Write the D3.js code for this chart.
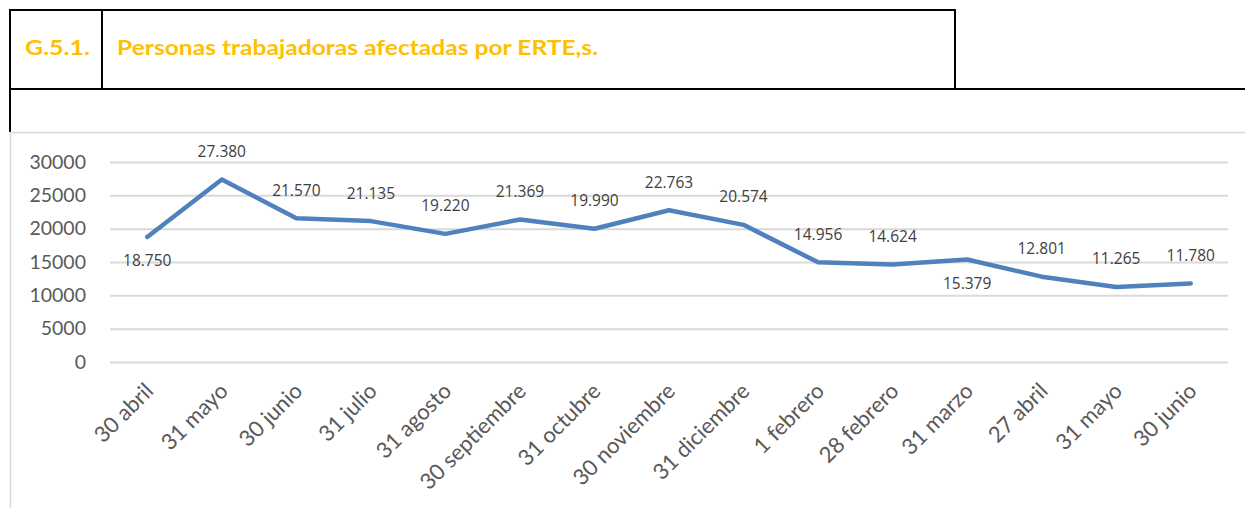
<!DOCTYPE html>
<html lang="es">
<head>
<meta charset="UTF-8">
<title>G.5.1. Personas trabajadoras afectadas por ERTE,s.</title>
<style>
	body { margin: 0; background: #fff; }
	svg { display: block; }
</style>
</head>
<body>
<svg id="cont" width="1245" height="508"></svg>
<script src="https://cdn.jsdelivr.net/npm/d3@7"></script>
<script>
	// fechas del eje x
	let fechas = ["30 abril", "31 mayo", "30 junio", "31 julio", "31 agosto", "30 septiembre",
		"31 octubre", "30 noviembre", "31 diciembre", "1 febrero", "28 febrero", "31 marzo",
		"27 abril", "31 mayo ", "30 junio "];
	// personas afectadas por ERTE
	let personas = [18750, 27380, 21570, 21135, 19220, 21369, 19990, 22763, 20574,
		14956, 14624, 15379, 12801, 11265, 11780];
	// posición de la etiqueta: arriba o abajo del punto
	let posEtiqueta = ["abajo", "arriba", "arriba", "arriba", "arriba", "arriba", "arriba", "arriba",
		"arriba", "arriba", "arriba", "abajo", "arriba", "arriba", "arriba"];
	let yTicks = [0, 5000, 10000, 15000, 20000, 25000, 30000];

	let svg = d3.select("#cont");
	let font = "Lato, 'Open Sans', sans-serif";

	// cabecera tipo tabla
	let head = svg.append("g").attr("stroke", "#000").attr("stroke-width", 2);
	head.append("line").attr("x1", 10).attr("x2", 956).attr("y1", 10).attr("y2", 10);
	head.append("line").attr("x1", 9).attr("x2", 1245).attr("y1", 89).attr("y2", 89);
	head.append("line").attr("x1", 10).attr("x2", 10).attr("y1", 9).attr("y2", 132);
	head.append("line").attr("x1", 102).attr("x2", 102).attr("y1", 10).attr("y2", 89);
	head.append("line").attr("x1", 955).attr("x2", 955).attr("y1", 10).attr("y2", 89);

	svg.append("text")
		.attr("x", 25).attr("y", 55)
		.attr("font-family", font)
		.attr("font-weight", "bold")
		.attr("font-size", 20)
		.attr("fill", "#ffc000")
		.attr("textLength", 65).attr("lengthAdjust", "spacingAndGlyphs")
		.text("G.5.1.");
	svg.append("text")
		.attr("x", 117).attr("y", 55)
		.attr("font-family", font)
		.attr("font-weight", "bold")
		.attr("font-size", 20)
		.attr("fill", "#ffc000")
		.attr("textLength", 481).attr("lengthAdjust", "spacingAndGlyphs")
		.text("Personas trabajadoras afectadas por ERTE,s.");

	// marco del gráfico
	svg.append("rect")
		.attr("x", 10.5).attr("y", 132.5)
		.attr("width", 1250).attr("height", 400)
		.attr("fill", "none")
		.attr("stroke", "#d9d9d9")
		.attr("stroke-width", 1.5);

	let x = d3.scaleBand()
		.domain(fechas)
		.range([110, 1228]);
	let y = d3.scaleLinear()
		.domain([0, 30000])
		.range([362, 162]);

	// rejilla y eje y
	let yaxis = d3.axisLeft(y)
		.tickValues(yTicks)
		.tickSize(-(1228 - 110))
		.tickPadding(24)
		.tickFormat(d => d);
	let gy = svg.append("g")
		.attr("transform", "translate(110,0)")
		.call(yaxis);
	gy.select(".domain").remove();
	gy.selectAll(".tick line").attr("stroke", "#d9d9d9").attr("stroke-width", 2);
	gy.selectAll(".tick text")
		.attr("font-family", font)
		.attr("font-size", 19.5)
		.attr("fill", "#595959");

	// eje x
	let xaxis = d3.axisBottom(x).tickSize(0).tickPadding(0);
	let gx = svg.append("g")
		.attr("transform", "translate(0,362)")
		.call(xaxis);
	gx.select(".domain").remove();
	gx.selectAll(".tick text")
		.attr("font-family", font)
		.attr("font-size", 22)
		.attr("fill", "#595959")
		.attr("text-anchor", "end")
		.attr("dy", "0.35em")
		.attr("transform", "translate(2,25) rotate(-45)");

	// línea
	let cx = d => x(d) + x.bandwidth() / 2;
	let line = d3.line()
		.x((d, i) => cx(fechas[i]))
		.y(d => y(d));
	svg.append("path")
		.datum(personas)
		.attr("fill", "none")
		.attr("stroke", "#4f81bd")
		.attr("stroke-width", 4.5)
		.attr("stroke-linejoin", "round")
		.attr("stroke-linecap", "round")
		.attr("d", line);

	// etiquetas de datos
	let fmt = d3.formatLocale({ decimal: ",", thousands: ".", grouping: [3] }).format(",");
	svg.append("g").selectAll("text")
		.data(personas)
		.join("text")
		.attr("x", (d, i) => cx(fechas[i]))
		.attr("y", (d, i) => posEtiqueta[i] == "arriba" ? y(d) - 28 : y(d) + 24)
		.attr("dy", "0.35em")
		.attr("text-anchor", "middle")
		.attr("font-family", "'Open Sans', sans-serif")
		.attr("font-size", 15.5)
		.attr("fill", "#404040")
		.text(d => fmt(d));
</script>
</body>
</html>
